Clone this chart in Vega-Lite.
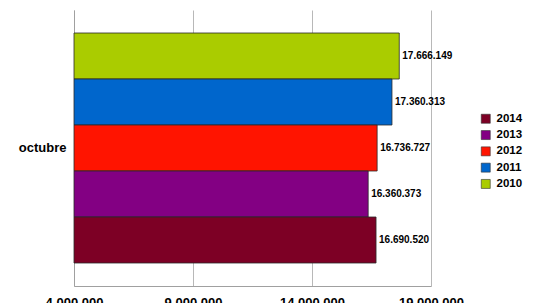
{
  "$schema": "https://vega.github.io/schema/vega-lite/v6.json",
  "autosize": "none",
  "width": 357,
  "height": 276,
  "padding": {"left": 74, "top": 10, "right": 108, "bottom": 17},
  "data": {
    "values": [
      {"mes": "octubre", "anio": "2010", "valor": 17666149},
      {"mes": "octubre", "anio": "2011", "valor": 17360313},
      {"mes": "octubre", "anio": "2012", "valor": 16736727},
      {"mes": "octubre", "anio": "2013", "valor": 16360373},
      {"mes": "octubre", "anio": "2014", "valor": 16690520}
    ]
  },
  "encoding": {
    "y": {
      "field": "mes",
      "type": "nominal",
      "scale": {"paddingInner": 0, "paddingOuter": 0.1},
      "axis": {
        "title": null,
        "ticks": false,
        "labelFont": "Liberation Sans",
        "labelFontSize": 13,
        "labelFontWeight": "bold",
        "labelColor": "#000000",
        "labelPadding": 8,
        "domainColor": "#a0a0a0"
      }
    },
    "yOffset": {
      "field": "anio",
      "type": "nominal",
      "scale": {"domain": ["2010", "2011", "2012", "2013", "2014"], "paddingInner": 0, "paddingOuter": 0}
    }
  },
  "layer": [
    {
      "mark": {"type": "bar", "stroke": "#2a2a2a", "strokeWidth": 0.8},
      "encoding": {
        "x": {
          "field": "valor",
          "type": "quantitative",
          "scale": {"domain": [4000000, 19000000], "zero": false, "nice": false},
          "axis": {
            "title": null,
            "values": [4000000, 9000000, 14000000, 19000000],
            "labelExpr": "replace(format(datum.value, ',.0f'), regexp(',', 'g'), '.')",
            "ticks": false,
            "labelFont": "Liberation Sans",
            "labelFontSize": 13,
            "labelFontWeight": "bold",
            "labelColor": "#000000",
            "labelPadding": 10,
            "domainColor": "#a0a0a0",
            "grid": true,
            "gridColor": "#b8b8b8",
            "labelFlush": false
          }
        },
        "x2": {"datum": 4000000},
        "color": {
          "field": "anio",
          "type": "nominal",
          "scale": {
            "domain": ["2014", "2013", "2012", "2011", "2010"],
            "range": ["#7d0025", "#830083", "#ff1400", "#0066cc", "#aacc00"]
          },
          "legend": {
            "title": null,
            "orient": "none",
            "legendX": 406,
            "legendY": 103,
            "symbolType": "square",
            "symbolSize": 81,
            "symbolStrokeColor": "#333333",
            "symbolStrokeWidth": 0.6,
            "symbolOpacity": 1,
            "labelFont": "Liberation Sans",
            "labelFontSize": 11.5,
            "labelFontWeight": "bold",
            "labelColor": "#000000",
            "labelOffset": 5,
            "rowPadding": 3.3
          }
        }
      }
    },
    {
      "mark": {"type": "text", "align": "left", "baseline": "middle", "dx": 3, "font": "Liberation Sans", "fontSize": 10, "fontWeight": "bold", "color": "#000000"},
      "encoding": {
        "x": {"field": "valor", "type": "quantitative"},
        "text": {"field": "valor", "type": "quantitative", "format": ","}
      }
    }
  ],
  "config": {
    "view": {"stroke": null},
    "locale": {"number": {"decimal": ",", "thousands": ".", "grouping": [3], "currency": ["", " €"]}}
  }
}
